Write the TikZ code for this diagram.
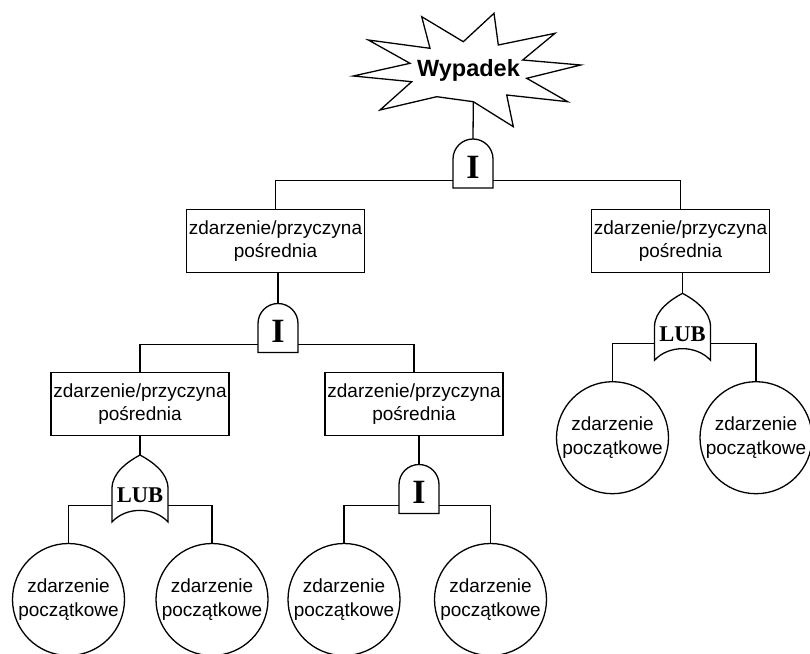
\documentclass[tikz,border=0pt]{standalone}
\usepackage{fontspec}
\newfontfamily\sansfnt{Liberation Sans}
\newfontfamily\seriffnt{Liberation Serif}
\begin{document}
\begin{tikzpicture}[x=1pt,y=-1pt,
  edge/.style={line width=1.3pt,black},
  txt/.style={font=\sansfnt\fontsize{19}{23.3}\selectfont,align=center},
  eventbox/.style={txt,draw,edge,rectangle,minimum width=178pt,minimum height=63pt,inner sep=0pt},
  basic/.style={txt,draw,edge,circle,minimum size=112pt,inner sep=0pt},
  gatelbl/.style={font=\seriffnt\bfseries\fontsize{#1}{#1}\selectfont},
  andgate/.style={rectangle,minimum width=40pt,minimum height=49pt,inner sep=0pt,
    label={[gatelbl=34,yshift=-3.5pt]center:I}},
  orgate/.style={rectangle,minimum width=56pt,minimum height=67pt,inner sep=0pt,
    label={[gatelbl=22.5,yshift=-7pt]center:LUB}},
]
\useasboundingbox (0,0) rectangle (810,653);

% outlines of the gate symbols, drawn around their nodes
\newcommand\andoutline[1]{%
  \begin{scope}[shift={(#1.center)}]
    \draw[edge] (-20,24.5) -- (-20,-4.5)
      .. controls (-20,-15.55) and (-11.05,-24.5) .. (0,-24.5)
      .. controls (11.05,-24.5) and (20,-15.55) .. (20,-4.5)
      -- (20,24.5) -- cycle;
  \end{scope}}
\newcommand\oroutline[1]{%
  \begin{scope}[shift={(#1.center)}]
    \draw[edge,line join=miter] (-28,33.5) -- (-28,0)
      .. controls (-28,-16) and (-12,-27) .. (0,-33.5)
      .. controls (12,-27) and (28,-16) .. (28,0)
      -- (28,33.5)
      .. controls (14,18) and (-14,18) .. (-28,33.5) -- cycle;
  \end{scope}}

% top event
\draw[edge,line join=miter] (421.7,16.7) -- (463.3,41.7) -- (494,13.3) -- (498.3,45)
  -- (555,33.3) -- (522.7,60) -- (580.7,65) -- (526.7,78.3) -- (567.7,101.7)
  -- (506.7,95) -- (513.3,126.7) -- (473.3,101.7) -- (436.7,96.7) -- (380,110)
  -- (411.7,81.7) -- (353.3,76) -- (410,63.3) -- (368.3,40) -- (430,48.3) -- cycle;
\node[font=\sansfnt\bfseries\fontsize{23.5}{24}\selectfont] (top) at (468.5,70) {Wypadek};
\coordinate (topfoot) at (473.3,101.7);

% gates
\node[andgate] (g0) at (473,163.5) {};
\node[andgate] (gA) at (278,328) {};
\node[andgate] (gD) at (419,489) {};
\node[orgate] (o1) at (140,488.5) {};
\node[orgate] (o2) at (682.5,326.8) {};
\andoutline{g0}
\andoutline{gA}
\andoutline{gD}
\oroutline{o1}
\oroutline{o2}

% intermediate events
\node[eventbox] (bA) at (275.5,241) {zdarzenie/przyczyna\\pośrednia};
\node[eventbox] (bB) at (680.5,241) {zdarzenie/przyczyna\\pośrednia};
\node[eventbox] (bC) at (140,404) {zdarzenie/przyczyna\\pośrednia};
\node[eventbox] (bD) at (414,404) {zdarzenie/przyczyna\\pośrednia};

% basic events
\node[basic] (c1) at (68.5,599.5) {zdarzenie\\początkowe};
\node[basic] (c2) at (212,599.5) {zdarzenie\\początkowe};
\node[basic] (c3) at (344,599.5) {zdarzenie\\początkowe};
\node[basic] (c4) at (490.5,599.5) {zdarzenie\\początkowe};
\node[basic] (c5) at (612.5,437.7) {zdarzenie\\początkowe};
\node[basic] (c6) at (756,437.7) {zdarzenie\\początkowe};

% connectors
\draw[edge] (topfoot) -- (g0.north);
\draw[edge] ([yshift=7.5pt]g0.south west) -| (bA.north);
\draw[edge] ([yshift=7.5pt]g0.south east) -| (bB.north);

\draw[edge] (gA.north) -- (gA.north |- bA.south);
\draw[edge] ([yshift=8.5pt]gA.south west) -| (bC.north);
\draw[edge] ([yshift=8.5pt]gA.south east) -| (bD.north);

\draw[edge] (o1.north) -- (o1.north |- bC.south);
\draw[edge] ([yshift=-16.7pt]o1.west) -| (c1.north);
\draw[edge] ([yshift=-16.7pt]o1.east) -| (c2.north);

\draw[edge] (gD.north) -- (gD.north |- bD.south);
\draw[edge] ([yshift=8pt]gD.south west) -| (c3.north);
\draw[edge] ([yshift=8pt]gD.south east) -| (c4.north);

\draw[edge] (o2.north) -- (o2.north |- bB.south);
\draw[edge] ([yshift=-16.7pt]o2.west) -| (c5.north);
\draw[edge] ([yshift=-16.7pt]o2.east) -| (c6.north);
\end{tikzpicture}
\end{document}
